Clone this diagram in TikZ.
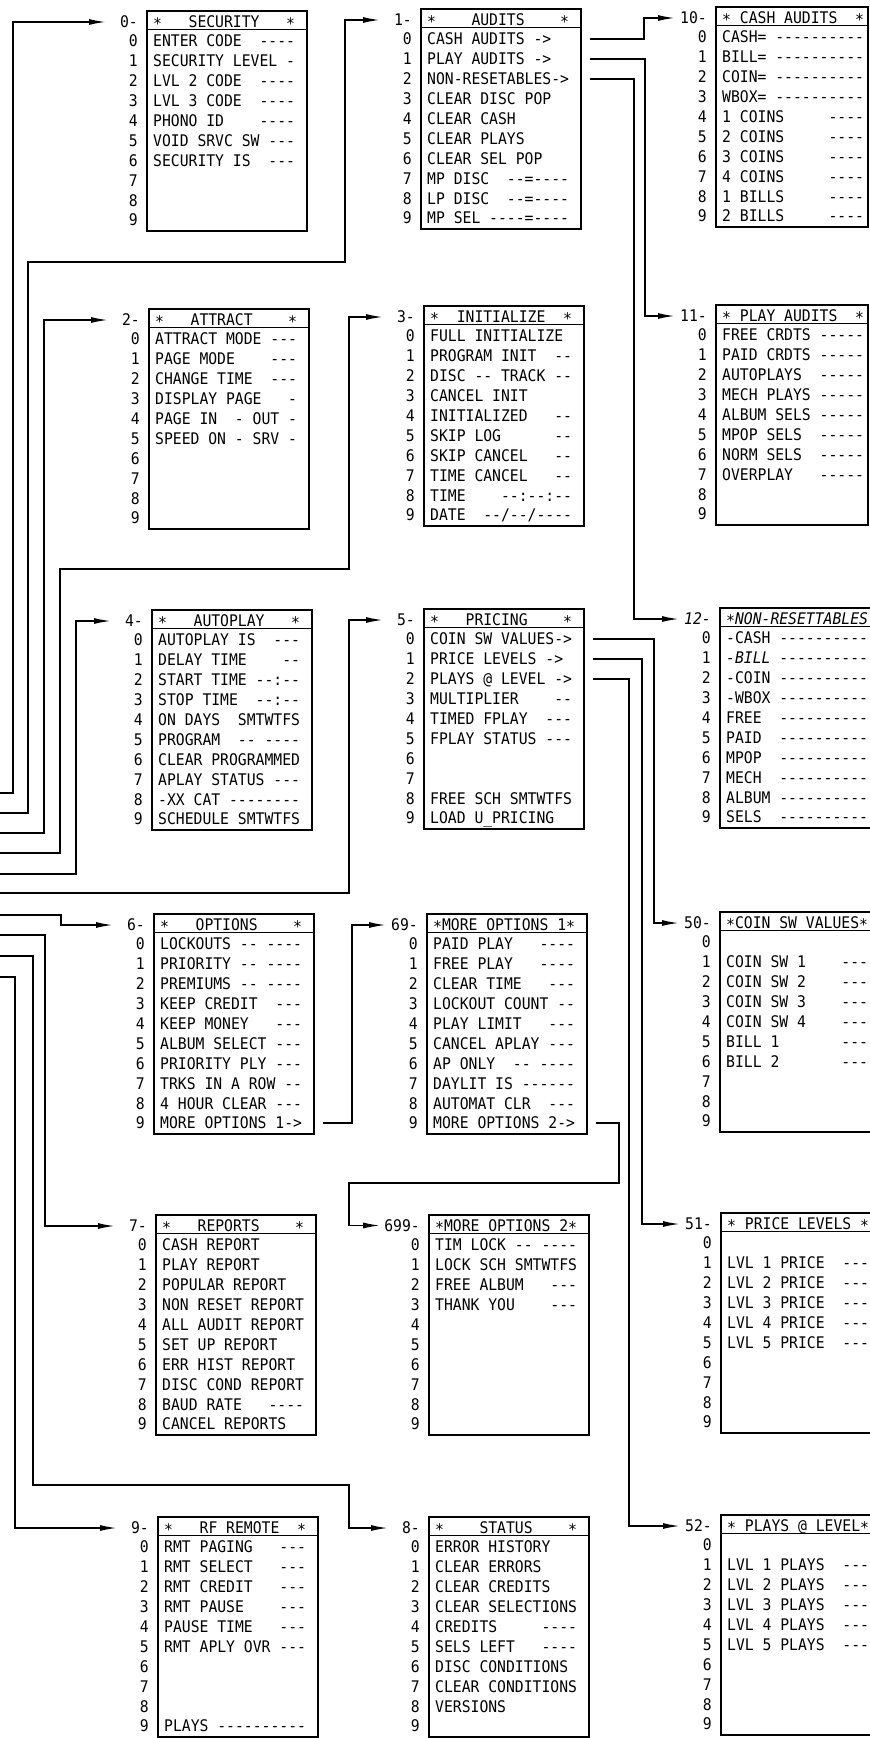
\documentclass[tikz,border=0pt]{standalone}
\usepackage{fontspec}
\setmonofont{DejaVu Sans Mono}[FakeStretch=0.92]
\usetikzlibrary{arrows.meta}

\newcommand{\lcd}{\ttfamily\fontsize{16}{19}\selectfont}
\newcommand{\hs}{\raisebox{-0.3ex}{*}}

% one display menu: box, title, tag, digits 0-9 and the rows
\newcommand{\menubox}[7][]{%
  \node[menu,#1] (#2) at (#3,#4) {};
  \draw[menu line] ([yshift=-19.5pt]#2.north west) -- ([yshift=-19.5pt]#2.north east);
  \node[menu text] (#2-head) at ({#3+7},{#4+17.3}) {#6};
  \node[menu tag] (#2-lab) at ({#3-8},{#4+17.3}) {#5};
  \coordinate (#2-in) at ({#3-40},{#4+12});
  \foreach \i in {0,...,9}{%
    \node[menu tag] at ({#3-8},{#4+36.8+19.9*\i}) {\i};
    \path (#2.north east) ++(8pt,{-31pt-19.9pt*\i}) coordinate (#2-o\i);
  }%
  \foreach \itm [count=\j from 0] in {#7}{%
    \node[menu text] at ({#3+7},{#4+36.8+19.9*\j}) {\itm};
  }%
}

\begin{document}
\begin{tikzpicture}[x=1pt,y=-1pt,font=\lcd,>={Latex[length=17pt,width=6pt]},
  menu/.style={draw,line width=1.8pt,anchor=north west,minimum width=160pt,minimum height=220pt,inner sep=0pt},
  menu line/.style={line width=1.6pt},
  menu text/.style={anchor=base west,inner sep=0pt},
  menu tag/.style={anchor=base east,inner sep=0pt},
  link/.style={line width=1.6pt}]
\useasboundingbox[fill=white] (0,0) rectangle (870,1738);

% row 1
\menubox{m0}{146}{10}{0-}{\hs~~~SECURITY~~~\hs}{%
ENTER CODE~~----,%
SECURITY LEVEL -,%
LVL 2 CODE~~----,%
LVL 3 CODE~~----,%
PHONO ID~~~~----,%
VOID SRVC SW ---,%
SECURITY IS~~---}
\menubox{m1}{420}{8}{1-}{\hs~~~~AUDITS~~~~\hs}{%
CASH AUDITS ->,%
PLAY AUDITS ->,%
NON-RESETABLES->,%
CLEAR DISC POP,%
CLEAR CASH,%
CLEAR PLAYS,%
CLEAR SEL POP,%
MP DISC~~--=----,%
LP DISC~~--=----,%
MP SEL ----=----}
\menubox[minimum width=152pt]{m10}{715}{6}{10-}{\hs{} CASH AUDITS~~\hs}{%
CASH= ----------,%
BILL= ----------,%
COIN= ----------,%
WBOX= ----------,%
1 COINS~~~~~----,%
2 COINS~~~~~----,%
3 COINS~~~~~----,%
4 COINS~~~~~----,%
1 BILLS~~~~~----,%
2 BILLS~~~~~----}

% row 2
\menubox{m2}{148}{308}{2-}{\hs~~~ATTRACT~~~~\hs}{%
ATTRACT MODE ---,%
PAGE MODE~~~~---,%
CHANGE TIME~~---,%
DISPLAY PAGE~~~-,%
PAGE IN~~- OUT -,%
SPEED ON - SRV -}
\menubox{m3}{423}{305}{3-}{\hs~~INITIALIZE~~\hs}{%
FULL INITIALIZE,%
PROGRAM INIT~~--,%
DISC -- TRACK --,%
CANCEL INIT,%
INITIALIZED~~~--,%
SKIP LOG~~~~~~--,%
SKIP CANCEL~~~--,%
TIME CANCEL~~~--,%
TIME~~~~--:--:--,%
DATE~~--/--/----}
\menubox[minimum width=152pt]{m11}{715}{304}{11-}{\hs{} PLAY AUDITS~~\hs}{%
FREE CRDTS -----,%
PAID CRDTS -----,%
AUTOPLAYS~~-----,%
MECH PLAYS -----,%
ALBUM SELS -----,%
MPOP SELS~~-----,%
NORM SELS~~-----,%
OVERPLAY~~~-----}

% row 3
\menubox{m4}{151}{609}{4-}{\hs~~~AUTOPLAY~~~\hs}{%
AUTOPLAY IS~~---,%
DELAY TIME~~~~--,%
START TIME --:--,%
STOP TIME~~--:--,%
ON DAYS~~SMTWTFS,%
PROGRAM~~-- ----,%
CLEAR PROGRAMMED,%
APLAY STATUS ---,%
-XX CAT --------,%
SCHEDULE SMTWTFS}
\menubox{m5}{423}{608}{5-}{\hs~~~PRICING~~~~\hs}{%
COIN SW VALUES->,%
PRICE LEVELS ->,%
PLAYS @ LEVEL ->,%
MULTIPLIER~~~~--,%
TIMED FPLAY~~---,%
FPLAY STATUS ---,%
{},%
{},%
FREE SCH SMTWTFS,%
LOAD U\_PRICING}
\menubox[minimum width=151pt]{m12}{719}{607}{\itshape 12-}{\itshape\hs NON-RESETTABLES}{%
-CASH ----------,%
{\itshape-BILL} ----------,%
-COIN ----------,%
-WBOX ----------,%
FREE~~----------,%
PAID~~----------,%
MPOP~~----------,%
MECH~~----------,%
ALBUM ----------,%
SELS~~----------}

% row 4
\menubox{m6}{153}{913}{6-}{\hs~~~OPTIONS~~~~\hs}{%
LOCKOUTS -- ----,%
PRIORITY -- ----,%
PREMIUMS -- ----,%
KEEP CREDIT~~---,%
KEEP MONEY~~~---,%
ALBUM SELECT ---,%
PRIORITY PLY ---,%
TRKS IN A ROW --,%
4 HOUR CLEAR ---,%
MORE OPTIONS 1->}
\menubox{m69}{426}{913}{69-}{\hs MORE OPTIONS 1\hs}{%
PAID PLAY~~~----,%
FREE PLAY~~~----,%
CLEAR TIME~~~---,%
LOCKOUT COUNT --,%
PLAY LIMIT~~~---,%
CANCEL APLAY ---,%
AP ONLY~~-- ----,%
DAYLIT IS ------,%
AUTOMAT CLR~~---,%
MORE OPTIONS 2->}
\menubox[minimum width=151pt]{m50}{719}{911}{50-}{\hs COIN SW VALUES\hs}{%
{},%
COIN SW 1~~~~---,%
COIN SW 2~~~~---,%
COIN SW 3~~~~---,%
COIN SW 4~~~~---,%
BILL 1~~~~~~~---,%
BILL 2~~~~~~~---}

% row 5
\menubox{m7}{155}{1214}{7-}{\hs~~~REPORTS~~~~\hs}{%
CASH REPORT,%
PLAY REPORT,%
POPULAR REPORT,%
NON RESET REPORT,%
ALL AUDIT REPORT,%
SET UP REPORT,%
ERR HIST REPORT,%
DISC COND REPORT,%
BAUD RATE~~~----,%
CANCEL REPORTS}
\menubox{m699}{428}{1214}{699-}{\hs MORE OPTIONS 2\hs}{%
TIM LOCK -- ----,%
LOCK SCH SMTWTFS,%
FREE ALBUM~~~---,%
THANK YOU~~~~---}
\menubox[minimum width=151pt]{m51}{720}{1212}{51-}{\hs{} PRICE LEVELS~\hs}{%
{},%
LVL 1 PRICE~~---,%
LVL 2 PRICE~~---,%
LVL 3 PRICE~~---,%
LVL 4 PRICE~~---,%
LVL 5 PRICE~~---}

% row 6
\menubox{m9}{157}{1516}{9-}{\hs~~~RF REMOTE~~\hs}{%
RMT PAGING~~~---,%
RMT SELECT~~~---,%
RMT CREDIT~~~---,%
RMT PAUSE~~~~---,%
PAUSE TIME~~~---,%
RMT APLY OVR ---,%
{},%
{},%
{},%
PLAYS ----------}
\menubox{m8}{428}{1516}{8-}{\hs~~~~STATUS~~~~\hs}{%
ERROR HISTORY,%
CLEAR ERRORS,%
CLEAR CREDITS,%
CLEAR SELECTIONS,%
CREDITS~~~~~----,%
SELS LEFT~~~----,%
DISC CONDITIONS,%
CLEAR CONDITIONS,%
VERSIONS}
\menubox[minimum width=151pt]{m52}{720}{1514}{52-}{\hs{} PLAYS @ LEVEL\hs}{%
{},%
LVL 1 PLAYS~~---,%
LVL 2 PLAYS~~---,%
LVL 3 PLAYS~~---,%
LVL 4 PLAYS~~---,%
LVL 5 PLAYS~~---}

% main menu keys coming in from the left
\coordinate (sel0) at (0,793);
\coordinate (sel1) at (0,813);
\coordinate (sel2) at (0,833);
\coordinate (sel3) at (0,853);
\coordinate (sel4) at (0,874);
\coordinate (sel5) at (0,893);
\coordinate (sel6) at (0,915);
\coordinate (sel7) at (0,935);
\coordinate (sel8) at (0,956);
\coordinate (sel9) at (0,977);

\draw[link,->] (sel0) -- ++(13,0) |- (m0-in);
\draw[link,->] (sel1) -| (28,262) -- (345,262) |- (m1-in);
\draw[link,->] (sel2) -- ++(44,0) |- (m2-in);
\draw[link,->] (sel3) -| (60,569) -- (349,569) |- (m3-in);
\draw[link,->] (sel4) -- ++(76,0) |- (m4-in);
\draw[link,->] (sel5) -- ++(349,0) |- (m5-in);
\draw[link,->] (sel6) -- ++(61,0) |- (m6-in);
\draw[link,->] (sel7) -- ++(45,0) |- (m7-in);
\draw[link,->] (sel8) -| (33,1485) -- (349,1485) |- (m8-in);
\draw[link,->] (sel9) -- ++(15,0) |- (m9-in);

% sub menus
\draw[link,->] (m1-o0) -- ++(54,0) |- (m10-in);
\draw[link,->] (m1-o1) -- ++(55,0) |- (m11-in);
\draw[link,->] (m1-o2) -- ++(44,0) |- (m12-in);
\draw[link,->] (m5-o0) -- ++(61,0) |- (m50-in);
\draw[link,->] (m5-o1) -- ++(49,0) |- (m51-in);
\draw[link,->] (m5-o2) -- ++(36,0) |- (m52-in);
\draw[link,->] (m6-o9) -- ++(29,0) |- (m69-in);
\draw[link,->,shorten >=4pt] (m69-o9) -| (619,1183) -- (349,1183) |- (m699-lab);
\end{tikzpicture}
\end{document}
